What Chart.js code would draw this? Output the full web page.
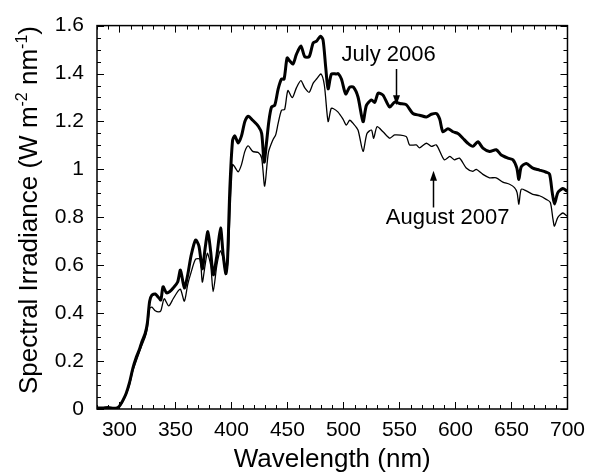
<!DOCTYPE html>
<html><head><meta charset="utf-8">
<script src="https://cdn.jsdelivr.net/npm/chart.js@4.4.1/dist/chart.umd.min.js"></script>
<style>html,body{margin:0;padding:0;background:#fff}#wrap{width:594px;height:475px;position:relative}</style>
</head><body><div id="wrap"><canvas id="c"></canvas></div>
<script>
// ---- data ----
const julyNm = [280,285,290,295,298,300,303,306,309,312,315,318,320,323,325,327,329,332,335,337,339,342,345,348,352,354.5,358,361,364,368,371,374,376.5,379,381.5,383.8,387,390.3,392.6,395,396.5,398.6,401,403,406,409,412,415,419,424,427,429.2,431.3,433.4,435.8,438.7,441.7,444.7,447,449.7,452,455,458,462,465.5,469.4,473,476,479.5,481.8,484.2,486.3,489.3,493.7,495.2,498.2,502,505.6,509,513,517.5,520.5,525,528,531,535.3,541.3,545.7,550.2,556,562,568,574,578.5,583,585.9,588.8,593.3,597.7,602.2,606.6,611,615.6,620,624.5,630.4,636.4,640.9,646.8,651.3,654.8,656.6,658.7,663.2,669.1,675,681,684,686.4,688.4,691.4,695.9,699.4,700];
const julyVal = [0.005,0.004,0.006,0.003,0.005,0.012,0.035,0.065,0.11,0.17,0.215,0.25,0.28,0.315,0.36,0.45,0.475,0.48,0.465,0.455,0.51,0.485,0.49,0.505,0.53,0.58,0.505,0.56,0.64,0.705,0.68,0.585,0.67,0.74,0.655,0.56,0.64,0.755,0.645,0.565,0.62,0.92,1.12,1.14,1.11,1.14,1.2,1.222,1.205,1.18,1.15,1.03,1.11,1.2,1.26,1.268,1.335,1.377,1.377,1.465,1.453,1.44,1.48,1.515,1.47,1.47,1.528,1.535,1.556,1.54,1.425,1.336,1.398,1.398,1.4,1.377,1.315,1.343,1.343,1.302,1.199,1.267,1.29,1.28,1.318,1.31,1.26,1.281,1.275,1.27,1.233,1.226,1.219,1.23,1.233,1.21,1.157,1.17,1.157,1.15,1.13,1.109,1.096,1.115,1.089,1.075,1.082,1.06,1.047,1.04,1.005,0.958,1.01,1.025,1.005,0.997,0.988,0.98,0.903,0.855,0.903,0.92,0.91,0.91];
const augNm = [280,285,290,295,298,300,303,306,309,312,315,318,320,323,325,327,329,332,335,337,340,344,348,352,354.5,358,361,364,368,372,374,376.5,378.5,381.5,383.7,387,390,392.6,395,397,399,401,403,406,409,412,415,419,424,427,429.7,433,437,439.5,441.7,444.7,447.5,450.4,454.3,458,462,465.5,469.4,473,476,480,483,486.3,489,490.8,495,499.6,502.6,505.6,509,513,517.5,521,525,527,530,535.3,541.3,545.7,556,559,565,568,574,578.5,583,590,595,599,603.6,609.6,615.6,618.6,624.5,630.4,636.4,642.3,648.3,652.7,655,656.6,658.7,663.2,669,675,681,684.7,687,688.4,691.4,695.9,699.4,700];
const augVal = [0.004,0.003,0.005,0.002,0.004,0.01,0.03,0.06,0.1,0.16,0.2,0.24,0.265,0.3,0.34,0.42,0.425,0.41,0.405,0.41,0.46,0.43,0.46,0.49,0.5,0.45,0.52,0.57,0.625,0.625,0.53,0.6,0.65,0.6,0.49,0.6,0.66,0.63,0.56,0.63,0.85,1.02,1.01,0.99,1.02,1.075,1.098,1.075,1.07,1.047,0.93,1.07,1.123,1.144,1.192,1.247,1.25,1.329,1.299,1.34,1.37,1.34,1.322,1.36,1.377,1.398,1.35,1.2,1.254,1.254,1.24,1.21,1.185,1.205,1.19,1.164,1.075,1.15,1.164,1.13,1.178,1.157,1.13,1.144,1.137,1.102,1.102,1.09,1.109,1.096,1.102,1.04,1.054,1.04,1.047,1.006,0.992,1.0,0.979,0.965,0.965,0.947,0.938,0.924,0.903,0.855,0.917,0.91,0.896,0.89,0.875,0.862,0.793,0.763,0.8,0.818,0.806,0.806];
const seriesNames = ["July 2006", "August 2007"];
const xTickValues = [300,350,400,450,500,550,600,650,700];
const yTickValues = [0,0.2,0.4,0.6,0.8,1,1.2,1.4,1.6];
const xTitle = "Wavelength (nm)";
const yTitleParts = [["Spectral Irradiance (W m",false],["-2",true],[" nm",false],["-1",true],[")",false]];

const FONT = "'Liberation Sans', Arial, sans-serif";

const toPts = (xs, ys) => xs.map((x, i) => ({x: x, y: ys[i]}));

const decor = {
  id: 'decor',
  afterDatasetsDraw(chart) {
    const {ctx, chartArea: a, scales: {x, y}} = chart;
    ctx.save();
    ctx.strokeStyle = '#000';
    ctx.lineWidth = 1.5;
    ctx.strokeRect(a.left, a.top, a.right - a.left, a.bottom - a.top);
    ctx.lineWidth = 1;
    ctx.beginPath();
    for (let v = 280; v <= 700; v += 10) {
      const px = Math.round(x.getPixelForValue(v)) + 0.5;
      const len = (v % 50 === 0) ? 7 : 4;
      ctx.moveTo(px, a.bottom); ctx.lineTo(px, a.bottom - len);
      ctx.moveTo(px, a.top); ctx.lineTo(px, a.top + len);
    }
    for (let i = 0; i <= 32; i++) {
      const v = i * 0.05;
      const py = Math.round(y.getPixelForValue(v)) + 0.5;
      const len = (i % 4 === 0) ? 7 : 4;
      ctx.moveTo(a.left, py); ctx.lineTo(a.left + len, py);
      ctx.moveTo(a.right, py); ctx.lineTo(a.right - len, py);
    }
    ctx.stroke();

    // annotations
    ctx.fillStyle = '#000';
    ctx.font = '22px ' + FONT;
    ctx.textAlign = 'center';
    ctx.textBaseline = 'alphabetic';
    const notes = [
      {text: seriesNames[0], tx: 540.4, ty: 1.452, ax: 547.3, from: 1.419, to: 1.268},
      {text: seriesNames[1], tx: 593, ty: 0.771, ax: 579.6, from: 0.841, to: 0.994}
    ];
    notes.forEach(n => {
      ctx.fillText(n.text, x.getPixelForValue(n.tx), y.getPixelForValue(n.ty));
      const ax = Math.round(x.getPixelForValue(n.ax)) + 0.5;
      const y0 = y.getPixelForValue(n.from), y1 = y.getPixelForValue(n.to);
      const dir = Math.sign(y1 - y0);
      ctx.lineWidth = 1.5;
      ctx.beginPath(); ctx.moveTo(ax, y0); ctx.lineTo(ax, y1 - dir * 6); ctx.stroke();
      ctx.beginPath();
      ctx.moveTo(ax, y1); ctx.lineTo(ax - 3.5, y1 - dir * 10); ctx.lineTo(ax + 3.5, y1 - dir * 10);
      ctx.closePath(); ctx.fill();
    });

    // x title
    ctx.font = '26px ' + FONT;
    ctx.textAlign = 'center';
    ctx.fillText(xTitle, (a.left + a.right) / 2, 467);

    // y title with superscripts
    ctx.save();
    ctx.translate(37, 0);
    ctx.rotate(-Math.PI / 2);
    const big = '26px ' + FONT, small = '16px ' + FONT;
    let total = 0;
    yTitleParts.forEach(p => { ctx.font = p[1] ? small : big; total += ctx.measureText(p[0]).width; });
    let cx = -210 - total / 2;
    ctx.textAlign = 'left';
    yTitleParts.forEach(p => {
      ctx.font = p[1] ? small : big;
      ctx.fillText(p[0], cx, p[1] ? -10 : 0);
      cx += ctx.measureText(p[0]).width;
    });
    ctx.restore();
    ctx.restore();
  }
};

new Chart(document.getElementById('c'), {
  type: 'line',
  data: {
    datasets: [
      {label: seriesNames[0], data: toPts(julyNm, julyVal), borderColor: '#000', borderWidth: 3, pointRadius: 0, tension: 0.25, fill: false},
      {label: seriesNames[1], data: toPts(augNm, augVal), borderColor: '#000', borderWidth: 1.3, pointRadius: 0, tension: 0.25, fill: false}
    ]
  },
  options: {
    responsive: true,
    maintainAspectRatio: false,
    animation: false,
    events: [],
    layout: {padding: {top: 20, right: 26, left: 0, bottom: 0}},
    plugins: {legend: {display: false}, tooltip: {enabled: false}},
    scales: {
      x: {
        type: 'linear', min: 280, max: 700,
        afterBuildTicks: s => { s.ticks = xTickValues.map(v => ({value: v})); },
        afterFit: s => { s.height = 66; },
        ticks: {font: {family: FONT, size: 21}, color: '#000', padding: 9, maxRotation: 0, autoSkip: false, callback: v => String(v)},
        grid: {display: false, drawTicks: false},
        border: {display: false}
      },
      y: {
        type: 'linear', min: 0, max: 1.6,
        afterBuildTicks: s => { s.ticks = yTickValues.map(v => ({value: v})); },
        afterFit: s => { s.width = 97; },
        ticks: {font: {family: FONT, size: 21}, color: '#000', padding: 13, autoSkip: false, callback: v => String(v)},
        grid: {display: false, drawTicks: false},
        border: {display: false}
      }
    }
  },
  plugins: [decor]
});
</script>
</body></html>
